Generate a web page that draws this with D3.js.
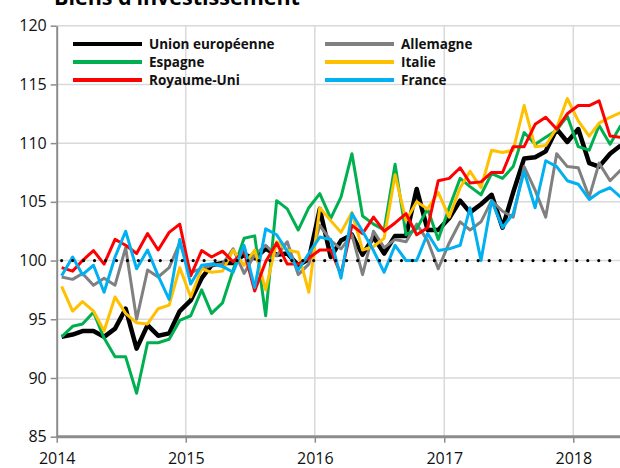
<!DOCTYPE html>
<html><head><meta charset="utf-8">
<script src="https://cdn.jsdelivr.net/npm/d3@7"></script>
<style>
html,body{margin:0;padding:0;background:#fff;}
svg{display:block;font-family:"Open Sans","Noto Sans",sans-serif;}
</style></head>
<body>
<svg id="c" width="620" height="468"></svg>
<script>
const title = "Biens d’investissement";
const startMonth = new Date(2014, 0, 15);
const nMonths = 53;
const yearTicks = [2014, 2015, 2016, 2017, 2018];
const yTicks = [85, 90, 95, 100, 105, 110, 115, 120];
const seriesNames = ["Union européenne", "Allemagne", "Espagne", "Italie", "Royaume-Uni", "France"];
const seriesColors = ["#000000", "#808080", "#00B050", "#FFC000", "#FF0000", "#00B0F0"];

const unionEuropeenne = [
  93.5, 93.7, 94.0, 94.0, 93.5, 94.2, 95.9, 92.5, 94.5, 93.6, 93.8, 95.7,
  96.6, 98.5, 99.6, 99.8, 99.8, 100.5, 100.2, 101.0, 100.5, 100.6, 99.6, 100.1,
  104.4, 100.3, 101.7, 102.2, 100.5, 102.0, 100.6, 102.1, 102.1, 106.1, 102.6, 102.6,
  103.6, 105.1, 104.1, 104.8, 105.6, 102.8, 105.8, 108.7, 108.8, 109.3, 111.2, 110.1,
  111.2, 108.3, 108.0, 109.1, 109.8];
const allemagne = [
  98.6, 98.4, 98.9, 97.9, 98.5, 97.9, 101.1, 95.0, 99.2, 98.6, 99.4, 101.5,
  99.0, 99.3, 99.6, 99.7, 101.0, 98.9, 100.5, 101.3, 100.4, 101.6, 98.8, 99.7,
  103.0, 101.7, 101.0, 102.2, 98.8, 102.5, 101.1, 101.8, 101.6, 103.1, 101.7, 99.3,
  101.5, 103.3, 102.6, 103.3, 105.1, 104.2, 103.7, 108.0, 106.0, 103.7, 109.1, 108.0,
  107.9, 105.4, 108.3, 106.8, 107.7];
const espagne = [
  93.5, 94.4, 94.6, 95.6, 93.4, 91.8, 91.8, 88.7, 93.0, 93.0, 93.3, 94.9,
  95.3, 97.5, 95.5, 96.4, 99.2, 101.9, 102.1, 95.3, 105.1, 104.4, 102.6, 104.5,
  105.7, 103.6, 105.4, 109.1, 103.8, 103.1, 102.6, 108.2, 102.2, 102.7, 104.4, 101.8,
  104.5, 107.0, 106.3, 105.6, 107.4, 107.0, 108.0, 110.9, 109.9, 110.5, 111.1, 112.3,
  109.7, 109.4, 111.5, 109.9, 111.5];
const italie = [
  97.8, 95.7, 96.5, 95.7, 94.0, 96.9, 95.5, 94.7, 94.6, 95.9, 96.2, 99.4,
  96.9, 99.3, 99.0, 99.1, 100.9, 99.6, 100.9, 97.5, 101.6, 100.9, 100.7, 97.3,
  104.5, 103.4, 102.4, 104.1, 100.9, 101.2, 101.9, 107.3, 103.4, 105.0, 104.4, 105.8,
  103.7, 106.2, 107.6, 106.2, 109.4, 109.2, 109.4, 113.2, 109.7, 109.8, 111.3, 113.8,
  111.9, 110.6, 111.7, 112.2, 112.6];
const royaumeUni = [
  99.4, 99.1, 100.0, 100.85, 99.7, 101.8, 101.3, 100.6, 102.3, 100.9, 102.4, 103.1,
  98.7, 100.85, 100.3, 100.8, 99.9, 100.8, 97.4, 99.9, 101.5, 99.7, 99.7, 100.2,
  100.9, 100.9, 98.8, 103.0, 102.3, 103.7, 102.5, 103.2, 104.0, 102.2, 102.8, 106.8,
  107.0, 107.9, 106.6, 106.7, 107.5, 107.5, 109.7, 109.7, 111.6, 112.2, 111.2, 112.5,
  113.2, 113.2, 113.6, 110.6, 110.5];
const france = [
  98.7, 100.3, 98.8, 99.6, 97.3, 100.3, 102.5, 99.3, 100.9, 98.7, 96.7, 101.8,
  98.0, 99.6, 99.7, 99.5, 99.0, 101.3, 97.7, 102.7, 102.2, 100.8, 99.2, 100.6,
  102.0, 101.8, 98.5, 104.0, 102.5, 100.85, 99.0, 101.3, 100.0, 100.0, 102.3, 100.85,
  101.0, 101.3, 104.5, 100.0, 105.1, 102.8, 104.0, 107.6, 104.5, 108.5, 108.0, 106.8,
  106.5, 105.2, 105.8, 106.2, 105.4];
const seriesValues = [unionEuropeenne, allemagne, espagne, italie, royaumeUni, france];
const referenceLevel = 100;

const months = d3.range(nMonths).map(i => d3.timeMonth.offset(startMonth, i));

const svg = d3.select("#c");
const L = 56.7, R = 620, T = 25.7, B = 436.7;
const x = d3.scaleTime().domain([new Date(2014,0,1), new Date(2018,0,1)]).range([L, 573.3]);
const y = d3.scaleLinear().domain([85, 120]).range([B, T]);

// title (cut off at top, as in the reference)
svg.append("text").attr("x", 54).attr("y", 5).attr("font-size", 21.5).attr("font-weight", "bold")
  .attr("fill", "#000").text(title);

// gridlines
svg.append("g").selectAll("line").data(yTicks.filter(v => v > 85)).join("line")
  .attr("x1", L).attr("x2", R).attr("y1", d => y(d)).attr("y2", d => y(d))
  .attr("stroke", "#d9d9d9").attr("stroke-width", 1.5);
svg.append("g").selectAll("line").data(yearTicks.slice(1)).join("line")
  .attr("x1", d => x(new Date(d,0,1))).attr("x2", d => x(new Date(d,0,1)))
  .attr("y1", T).attr("y2", B)
  .attr("stroke", "#d9d9d9").attr("stroke-width", 1.5);

// axes
const yAxis = svg.append("g").attr("transform", `translate(${L},0)`)
  .call(d3.axisLeft(y).tickValues(yTicks).tickSize(6).tickPadding(4).tickSizeOuter(0));
yAxis.select(".domain").attr("stroke", "#8c8c8c").attr("stroke-width", 2);
yAxis.selectAll(".tick line").attr("stroke", "#8c8c8c").attr("stroke-width", 1.5);
yAxis.selectAll("text").attr("font-size", 16).attr("fill", "#111").attr("font-family", "Open Sans");

const xAxis = svg.append("g").attr("transform", `translate(0,${B})`)
  .call(d3.axisBottom(x).tickValues(yearTicks.map(d => new Date(d,0,1)))
    .tickFormat(d3.timeFormat("%Y")).tickSize(6).tickPadding(10).tickSizeOuter(0));
xAxis.select(".domain").attr("d", `M${L},0H${R}`).attr("stroke", "#8c8c8c").attr("stroke-width", 3);
xAxis.selectAll(".tick line").attr("stroke", "#8c8c8c").attr("stroke-width", 1.5);
xAxis.selectAll("text").attr("font-size", 16).attr("fill", "#111").attr("font-family", "Open Sans");

// series
const line = d3.line().x((d, i) => x(months[i])).y(d => y(d)).curve(d3.curveLinear);
svg.append("g").selectAll("path").data(seriesValues).join("path")
  .attr("d", d => line(d)).attr("fill", "none")
  .attr("stroke", (d, i) => seriesColors[i])
  .attr("stroke-width", (d, i) => i === 0 ? 4.5 : 3)
  .attr("stroke-linejoin", "round");

// reference dotted line at 100
svg.append("line")
  .attr("x1", x(months[0])).attr("x2", R)
  .attr("y1", y(referenceLevel)).attr("y2", y(referenceLevel))
  .attr("stroke", "#000").attr("stroke-width", 3.2).attr("stroke-linecap", "round")
  .attr("stroke-dasharray", `0 ${x(months[1]) - x(months[0])}`);

// legend
const legCols = [73, 325], legRows = [44, 62, 80];
const leg = svg.append("g");
seriesNames.forEach((name, i) => {
  const cx = legCols[i % 2], cy = legRows[Math.floor(i / 2)];
  leg.append("line").attr("x1", cx).attr("x2", cx + 69).attr("y1", cy).attr("y2", cy)
    .attr("stroke", seriesColors[i]).attr("stroke-width", 4);
  leg.append("text").attr("x", cx + 76).attr("y", cy).attr("dy", "0.35em")
    .attr("font-size", 13.5).attr("font-weight", "bold").attr("fill", "#111").text(name);
});
</script>
</body></html>
